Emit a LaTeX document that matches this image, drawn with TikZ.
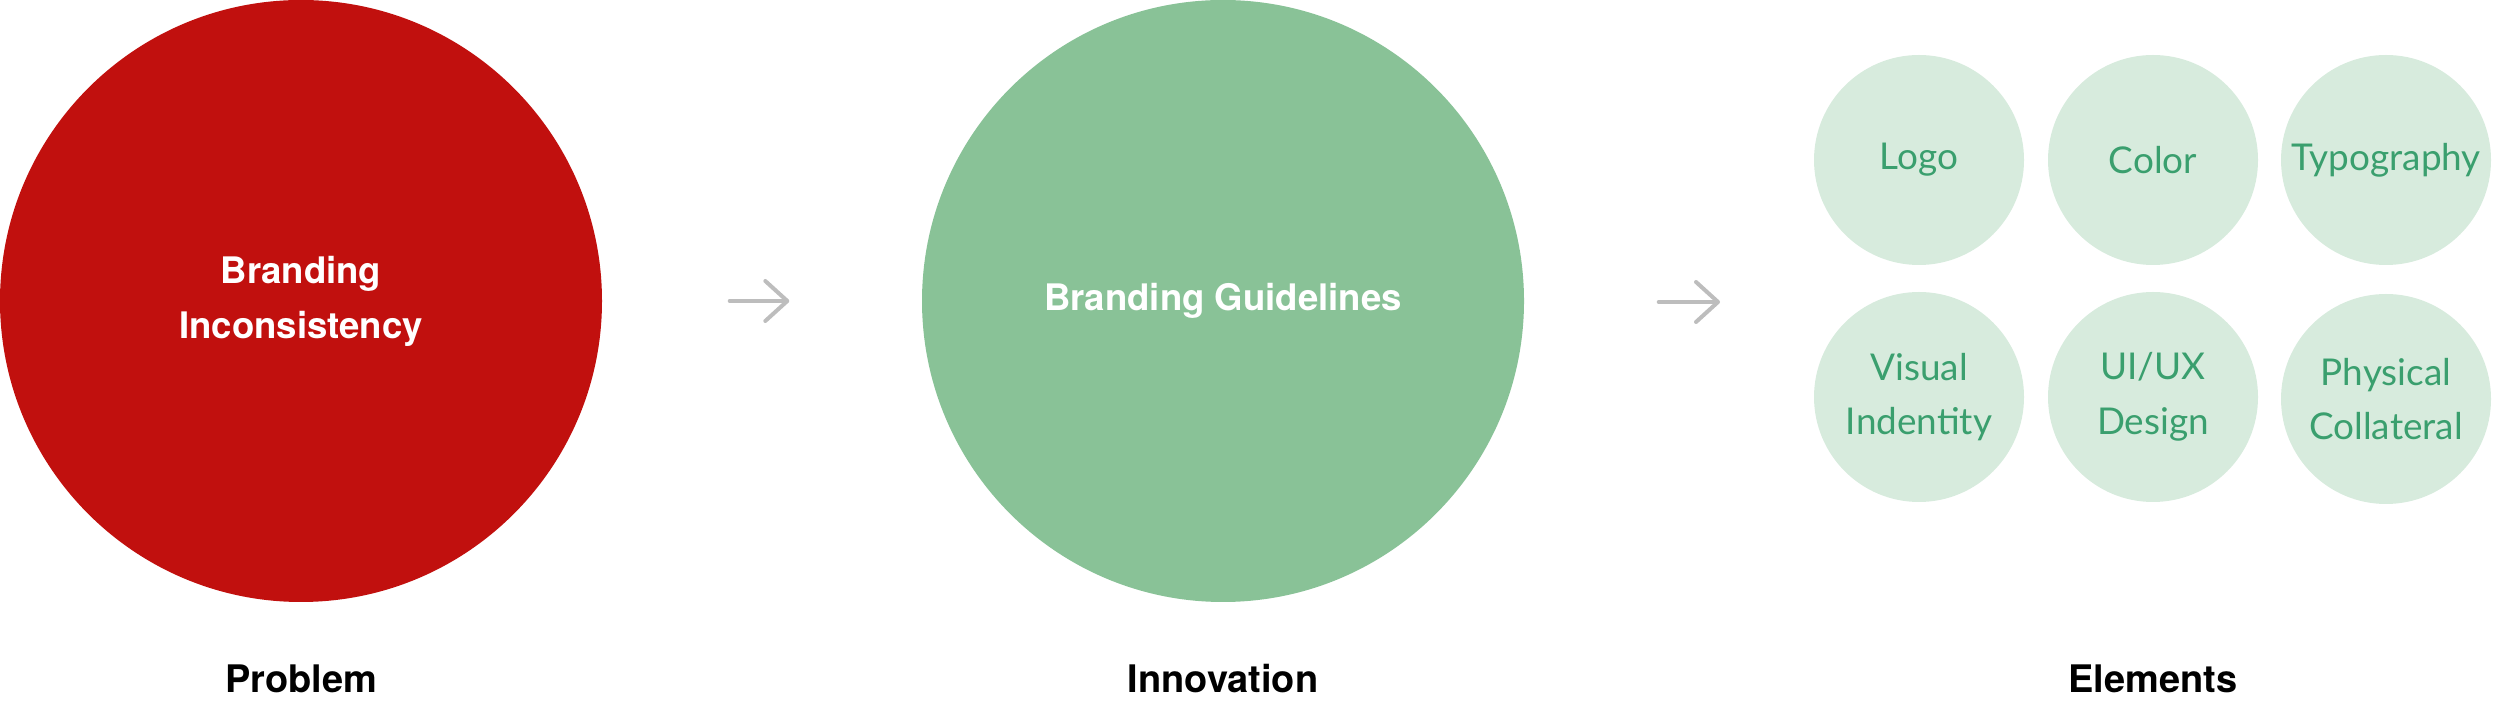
\documentclass[tikz,border=0pt]{standalone}
\usepackage{fontspec}
\setmainfont{TeX Gyre Heros}
\newfontfamily\lightfont{Lato}
\usetikzlibrary{arrows.meta}
\definecolor{problemred}{HTML}{C1100E}
\definecolor{guidegreen}{HTML}{89C297}
\definecolor{elempale}{HTML}{D7EBDD}
\definecolor{elemtext}{HTML}{3A9F6E}
\definecolor{arrowgray}{HTML}{BDBDBD}
\begin{document}
\begin{tikzpicture}[
		bigcircle/.style={circle, minimum size=6.02cm, inner sep=0mm, text=white, align=center, font=\fontsize{10.4}{15.6}\selectfont\bfseries},
		elemcircle/.style={circle, fill=elempale, minimum size=2.1cm, inner sep=0mm, text=elemtext, align=center, font=\fontsize{10.5}{15.6}\selectfont\lightfont},
		caption/.style={anchor=base, font=\fontsize{10.8}{13}\selectfont\bfseries},
		flow/.style={draw=arrowgray, line width=0.04cm, line cap=round, line join=round, -{Straight Barb[length=2.2mm, width=4mm, line cap=round, line join=round]}}
	]
		\useasboundingbox (0, 0) rectangle (25, 7.19);
		\node[bigcircle, fill=problemred] (problem) at (3.01, 4.18) {Branding \\ Inconsistency};
		\node[bigcircle, fill=guidegreen] (innovation) at (12.23, 4.18) {Branding Guidelines};
		\node[elemcircle] (logo) at (19.19, 5.59) {Logo};
		\node[elemcircle] (color) at (21.53, 5.59) {Color};
		\node[elemcircle] (typo) at (23.86, 5.59) {Typography};
		\node[elemcircle] (visual) at (19.19, 3.22) {Visual \\ Indentity};
		\node[elemcircle] (uiux) at (21.53, 3.22) {UI/UX \\ Design};
		\node[elemcircle] (physical) at (23.86, 3.20) {Physical \\ Collateral};
		\node[caption] (problemlabel) at (3.01, 0.26) {Problem};
		\node[caption] (innovationlabel) at (12.23, 0.26) {Innovation};
		\node[caption] (elementslabel) at (21.53, 0.26) {Elements};
		\coordinate (elementsin) at (17.20, 4.17);
		\draw[flow, shorten <=1.27cm, shorten >=1.32cm] (problem) -- (innovation);
		\draw[flow, shorten <=1.34cm] (innovation.east |- elementsin) -- (elementsin);
	\end{tikzpicture}
\end{document}
